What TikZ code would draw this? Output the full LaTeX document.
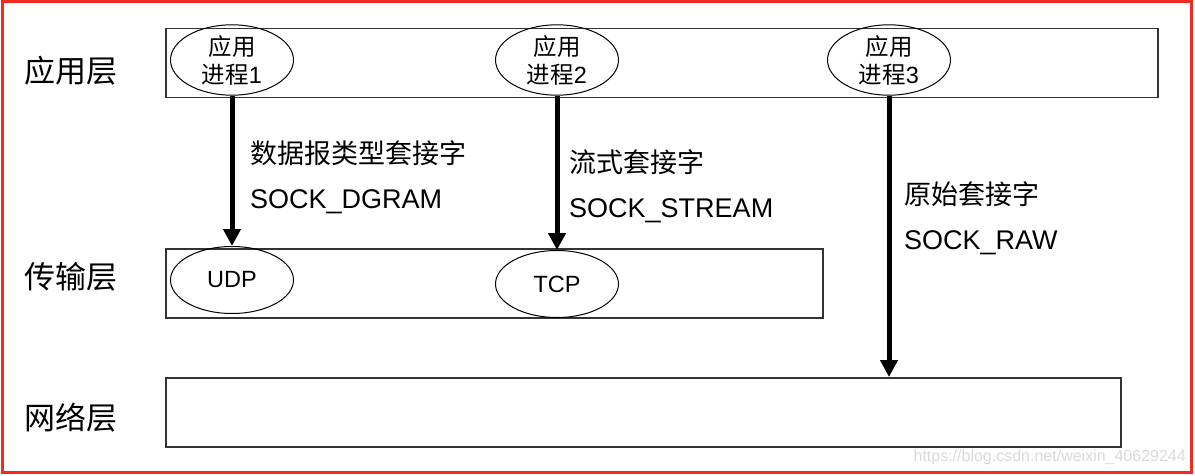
\documentclass[tikz,border=0pt]{standalone}
\usepackage{fontspec}
\setmainfont{Liberation Sans}
\newfontfamily\cjk{Noto Sans CJK SC}
\usetikzlibrary{arrows.meta,shapes.geometric}
\definecolor{frame}{HTML}{F42A1E}

\begin{document}
\begin{tikzpicture}[x=1pt,y=-1pt,
    layer/.style={draw=black!80,line width=1.5pt,inner sep=0pt,anchor=north west},
    proc/.style={draw,ellipse,line width=1pt,minimum width=123pt,minimum height=67pt,inner sep=0pt,align=center,font=\fontsize{23.5}{28}\selectfont},
    flow/.style={line width=5pt,-{Triangle[length=17pt,width=17pt]}},
    lbl/.style={anchor=west,inner sep=0pt,font=\fontsize{27}{30}\selectfont},
    lname/.style={inner sep=0pt,font=\cjk\fontsize{31}{34}\selectfont}]
    \useasboundingbox (0,0) rectangle (1195,476);
    \draw[frame,line width=3pt] (2,2) rectangle (1191,472);
    % layers
    \node[layer,minimum width=992pt,minimum height=69pt] (app) at (165,28) {};
    \node[layer,minimum width=657pt,minimum height=69pt] (trans) at (165,248) {};
    \node[layer,minimum width=955pt,minimum height=69pt] (net) at (165,377) {};
    \node[lname] (lapp) at (71,71) {应用层};
    \node[lname] (ltrans) at (71,277) {传输层};
    \node[lname] (lnet) at (71,418) {网络层};
    % processes and protocols
    \node[proc] (p1) at (232,60) {{\cjk 应用}\\{\cjk 进程}1};
    \node[proc] (p2) at (557,60) {{\cjk 应用}\\{\cjk 进程}2};
    \node[proc] (p3) at (889,60) {{\cjk 应用}\\{\cjk 进程}3};
    \node[proc] (udp) at (232,280) {UDP};
    \node[proc] (tcp) at (557,284) {TCP};
    % sockets
    \draw[flow] (p1) -- (udp);
    \draw[flow] (p2) -- (tcp);
    \draw[flow] (p3) -- (p3 |- net.north);
    \node[lbl] (s1) at (250,153) {\cjk 数据报类型套接字};
    \node[lbl] (s1b) at (250,202) {SOCK\_DGRAM};
    \node[lbl] (s2) at (569,162) {\cjk 流式套接字};
    \node[lbl] (s2b) at (569,211) {SOCK\_STREAM};
    \node[lbl] (s3) at (904,194) {\cjk 原始套接字};
    \node[lbl] (s3b) at (904,243) {SOCK\_RAW};
    \node[anchor=east,inner sep=0pt,text=black!15,font=\fontsize{16}{18}\selectfont] (wm) at (1186,457) {https://blog.csdn.net/weixin\_40629244};
\end{tikzpicture}
\end{document}
